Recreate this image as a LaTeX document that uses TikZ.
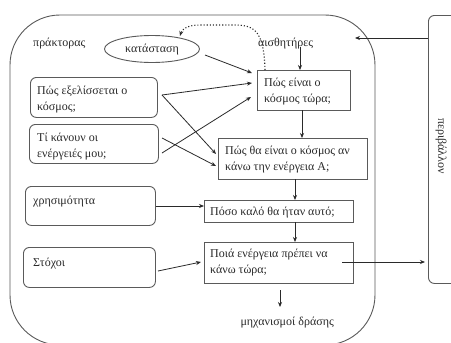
\documentclass[tikz,border=0pt]{standalone}
\usepackage{fontspec}
\setmainfont{Liberation Serif}
\usetikzlibrary{arrows.meta,calc}
\definecolor{ink}{HTML}{2A2A2A}
\definecolor{edge}{HTML}{5A5A5A}
\tikzset{
  txt/.style={inner sep=0pt, text=ink, font=\fontsize{12}{16}\selectfont, align=left},
  rbox/.style={draw=edge, line width=0.9pt, rounded corners=6pt, inner sep=0pt, anchor=north west},
  sbox/.style={draw=edge, line width=0.9pt, inner sep=0pt, anchor=north west},
  arr/.style={draw=ink, line width=0.8pt, -{Stealth[length=5pt,width=4pt]}},
}
\begin{document}
\begin{tikzpicture}[x=1pt,y=-1pt]
\clip (0,0) rectangle (451,343);
\fill[white] (0,0) rectangle (451,343);
% outer agent box
\draw[draw=edge, line width=0.9pt, rounded corners=50pt] (10,15) rectangle (375,345);
% environment box
\node[rbox, minimum width=45pt, minimum height=268pt] (env) at (428,15) {};
\node[txt, rotate=-90] (envt) at (441,146) {περιβάλλον};
% labels
\node[txt, anchor=base west] (agent) at (33,46) {πράκτορας};
\node[txt, anchor=base west] (sens) at (258,46) {αισθητήρες};
\node[txt, anchor=base east] (act) at (334,325) {μηχανισμοί δράσης};
% state ellipse
\draw[draw=edge, line width=0.9pt] (152,49) ellipse (47.5 and 13.5);
\node[txt] (state) at (152,50) {κατάσταση};
\coordinate (stE) at (205,55);
\coordinate (stTop) at (180,36);
% left boxes (text anchored at the baseline of the last line)
\node[rbox, minimum width=127pt, minimum height=40pt] (L1) at (30,77) {};
\node[txt, anchor=base west] (L1t) at (37,110) {Πώς εξελίσσεται ο\\κόσμος;};
\node[rbox, minimum width=129pt, minimum height=39pt] (L2) at (29,124) {};
\node[txt, anchor=base west] (L2t) at (37,157) {Τί κάνουν οι\\ενέργειές μου;};
\node[rbox, minimum width=130pt, minimum height=39pt] (L3) at (25,186) {};
\node[txt, anchor=base west] (L3t) at (33,204) {χρησιμότητα};
\node[rbox, minimum width=132pt, minimum height=40pt] (L4) at (23,247) {};
\node[txt, anchor=base west] (L4t) at (33,266) {Στόχοι};
% right column boxes
\node[sbox, minimum width=93pt, minimum height=40pt] (B1) at (257,70) {};
\node[txt, anchor=base west] (B1t) at (264,102) {Πώς είναι ο\\κόσμος τώρα;};
\node[sbox, minimum width=149pt, minimum height=41pt] (B2) at (218,138) {};
\node[txt, anchor=base west] (B2t) at (225,170) {Πώς θα είναι ο κόσμος αν\\κάνω την ενέργεια Α;};
\node[sbox, minimum width=149pt, minimum height=22pt] (B3) at (204,200) {};
\node[txt, anchor=base west] (B3t) at (210,215) {Πόσο καλό θα ήταν αυτό;};
\node[sbox, minimum width=149pt, minimum height=41pt] (B4) at (204,242) {};
\node[txt, anchor=base west] (B4t) at (210,273) {Ποιά ενέργεια πρέπει να\\κάνω τώρα;};
% helper coordinates
\coordinate (L1o) at (162,95);
\coordinate (L2a) at (162,138);
\coordinate (L2b) at (162,153);
\coordinate (B1in1) at (252,73);
\coordinate (B1in2) at (252,83);
\coordinate (B1in3) at (251,97);
\coordinate (B2in1) at (216,154);
\coordinate (B2in2) at (216,166);
\coordinate (envIn) at (428,38);
\coordinate (envOut) at (355,38);
\coordinate (B4src) at (342,262);
\coordinate (B4dst) at (425,262);
\coordinate (actTop) at (280,290);
\coordinate (actEnd) at (280,307);
\coordinate (sensLow) at (300,47);
% connectors
\draw[arr] (stE) -- (B1in1);
\draw[arr] (L1o) -- (B1in2);
\draw[arr] (L1o) -- (B2in1);
\draw[arr] (L2b) -- (B1in3);
\draw[arr] (L2a) -- (B2in2);
\draw[arr] (sensLow) -- (sensLow |- B1.north);
\draw[arr] (302,110) -- (302,138);
\draw[arr] (295,179) -- (295,200);
\draw[arr] (295,222) -- (295,242);
\draw[arr] (L3.east |- 0,206) -- (B3.west |- 0,206);
\draw[arr] (158,271) -- (201,262);
\draw[arr] (envIn) -- (envOut);
\draw[arr] (B4src) -- (B4dst);
\draw[arr] (actTop) -- (actEnd);
\draw[draw=ink, line width=1.1pt, dotted, -{Stealth[length=5pt,width=4pt]}]
  (B1.north west) ++(8,0) .. controls (264,32) and (255,25) .. (235,25)
  -- (200,25) .. controls (188,25) and (182,29) .. (stTop);
\end{tikzpicture}
\end{document}
